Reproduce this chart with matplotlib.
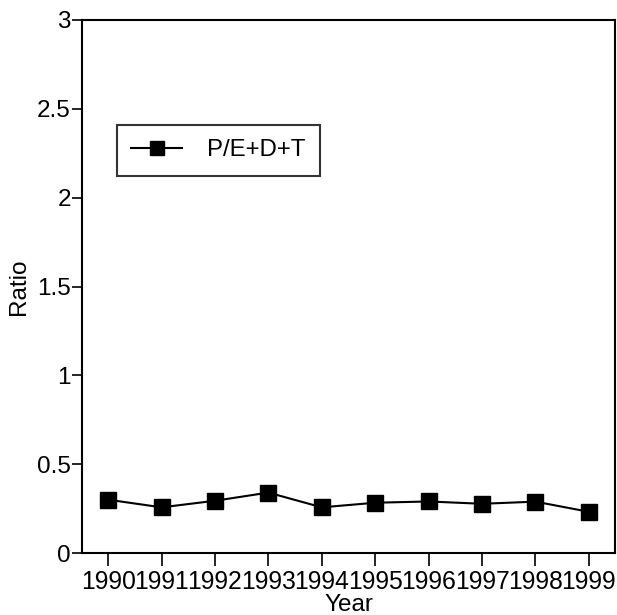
import matplotlib
matplotlib.use("Agg")
import matplotlib.pyplot as plt

# Annual ratio series
years = [1990, 1991, 1992, 1993, 1994, 1995, 1996, 1997, 1998, 1999]
ratio = [0.30, 0.257, 0.294, 0.34, 0.257, 0.283, 0.29, 0.277, 0.289, 0.232]
series_label = "P/E+D+T"
y_ticks = [0, 0.5, 1, 1.5, 2, 2.5, 3]
y_tick_labels = ["0", "0.5", "1", "1.5", "2", "2.5", "3"]

plt.rcParams["font.family"] = ["Liberation Sans", "DejaVu Sans"]

fig = plt.figure(figsize=(6.17, 6.15), dpi=100)
ax = fig.add_axes([82 / 617, 62 / 615, 533 / 617, 533 / 615])

ax.plot(years, ratio, color="black", linewidth=1.5, marker="s",
        markersize=11.5, markerfacecolor="black", markeredgecolor="black",
        label=series_label)

ax.set_xlim(1989.51, 1999.49)
ax.set_ylim(0, 3)
ax.set_xticks(years)
ax.set_xticklabels([str(y) for y in years])
ax.set_yticks(y_ticks)
ax.set_yticklabels(y_tick_labels)

for s in ax.spines.values():
    s.set_linewidth(1.5)
    s.set_color("black")

ax.tick_params(axis="x", direction="out", length=9, width=1.2,
               labelsize=17.8, pad=3, colors="black")
ax.tick_params(axis="y", direction="out", length=7, width=1.2,
               labelsize=17.5, pad=1, colors="black")

ax.set_xlabel("Year", fontsize=17.5, labelpad=0)
ax.set_ylabel("Ratio", fontsize=17.5, labelpad=5)

leg = ax.legend(loc="upper left", bbox_to_anchor=(35 / 533, (553 - 125) / 533),
                borderaxespad=0, fontsize=17.3, frameon=True, fancybox=False,
                handlelength=2.1, handletextpad=1.05, borderpad=0.6,
                markerscale=0.9)
leg.get_frame().set_edgecolor("black")
leg.get_frame().set_linewidth(1.5)

fig.savefig("out.png", dpi=100)
